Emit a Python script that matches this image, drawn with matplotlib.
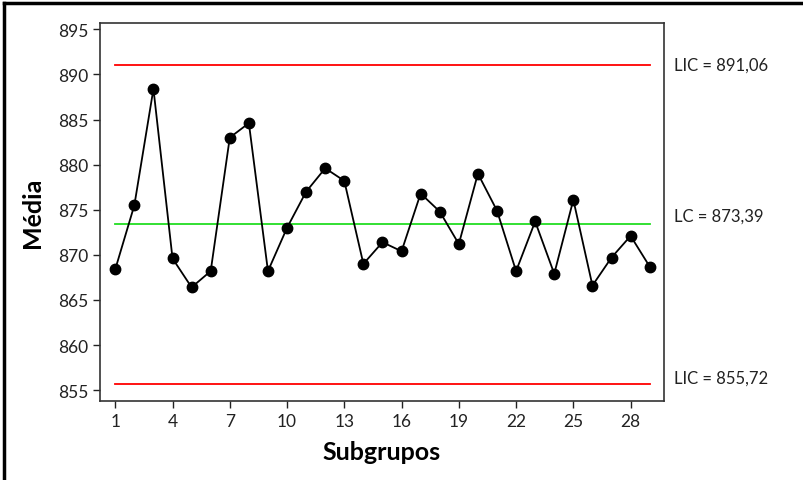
import matplotlib.pyplot as plt
from matplotlib.lines import Line2D

# médias dos subgrupos
subgrupos = list(range(1, 30))
medias = [868.4, 875.5, 888.4, 869.6, 866.4, 868.2, 883.0, 884.6, 868.2, 873.0,
          877.0, 879.6, 878.2, 869.0, 871.4, 870.4, 876.8, 874.8, 871.2, 879.0,
          874.9, 868.2, 873.7, 867.9, 876.1, 866.6, 869.7, 872.1, 868.7]

lsc = 891.06
lc = 873.39
lic = 855.72
rotulos = ["LIC = 891,06", "LC = 873,39", "LIC = 855,72"]

y_ticks = [855, 860, 865, 870, 875, 880, 885, 890, 895]
x_ticks = [1, 4, 7, 10, 13, 16, 19, 22, 25, 28]

plt.rcParams['font.family'] = ['Lato', 'DejaVu Sans']

fig = plt.figure(figsize=(8.04, 4.81), dpi=100)
ax = fig.add_axes([100 / 804, 1 - 402 / 481, 564 / 804, 378 / 481])

ax.plot([1, 29], [lsc, lsc], color='#ff0000', lw=1.3)
ax.plot([1, 29], [lc, lc], color='#22dd22', lw=1.3)
ax.plot([1, 29], [lic, lic], color='#ff0000', lw=1.3)
ax.plot(subgrupos, medias, color='black', lw=1.3, marker='o', markersize=7.5)

ax.set_xlim(0.2, 29.75)
ax.set_ylim(853.8, 895.7)
ax.set_xticks(x_ticks)
ax.set_yticks(y_ticks)
ax.tick_params(direction='out', length=5, width=1, labelsize=12.5, colors='#222222')
for s in ax.spines.values():
    s.set_color('#333333')
    s.set_linewidth(1.2)

ax.set_xlabel('Subgrupos', fontsize=18, fontweight='bold', labelpad=8)
ax.set_ylabel('Média', fontsize=18, fontweight='bold', labelpad=10)

for val, txt, dy in zip([lsc, lc, lic], rotulos, [0, 1.0, 0.65]):
    ax.text(30.3, val + dy, txt, fontsize=12, va='center', ha='left',
            color='#222222', clip_on=False)

# moldura externa
fig.add_artist(Line2D([4 / 804, 1], [1 - 4 / 481, 1 - 4 / 481], color='black', lw=2.5))
fig.add_artist(Line2D([4 / 804, 4 / 804], [0, 1 - 4 / 481], color='black', lw=2.5))

fig.savefig('out.png', dpi=100)
